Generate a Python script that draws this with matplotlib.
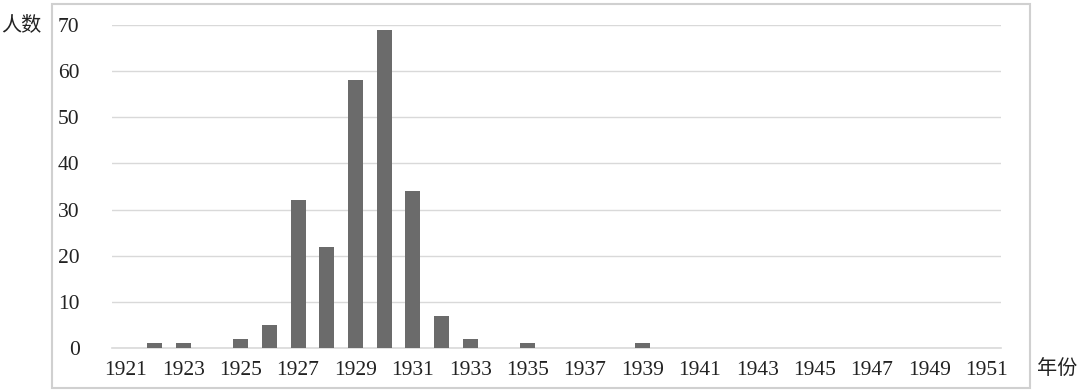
import matplotlib.pyplot as plt
from matplotlib.patches import Rectangle

plt.rcParams['font.family'] = ['Liberation Serif', 'Noto Sans CJK SC', 'DejaVu Sans']

years = list(range(1921, 1952))
counts = [0, 1, 1, 0, 2, 5, 32, 22, 58, 69, 34, 7, 2, 0, 1, 0, 0, 0, 1,
          0, 0, 0, 0, 0, 0, 0, 0, 0, 0, 0, 0]
tick_years = [y for y in years if y % 2 == 1]
y_ticks = [0, 10, 20, 30, 40, 50, 60, 70]

fig = plt.figure(figsize=(10.8, 3.92), dpi=100)
ax = fig.add_axes([0.1033, 0.1122, 0.8237, 0.8240])

x = list(range(len(years)))
ax.bar(x, counts, width=0.52, color="#6b6b6b", zorder=3)

ax.set_xlim(-0.5, len(years) - 0.5)
ax.set_ylim(0, 70)
ax.set_yticks(y_ticks)
ax.set_xticks([years.index(y) for y in tick_years])
ax.set_xticklabels([str(y) for y in tick_years])
ax.tick_params(axis="both", length=0, labelsize=15.5, colors="#222222")
ax.tick_params(axis="y", pad=23)
ax.tick_params(axis="x", pad=9)
ax.grid(axis="y", color="#d9d9d9", linewidth=1, zorder=0)
for side in ["top", "right", "left"]:
    ax.spines[side].set_visible(False)
ax.spines["bottom"].set_color("#d9d9d9")
ax.spines["bottom"].set_linewidth(1.2)

# outer frame of the chart area
fig.patches.append(Rectangle((52 / 1080, 4 / 392), 978 / 1080, 384 / 392,
                             transform=fig.transFigure, fill=False,
                             edgecolor="#d0d0d0", linewidth=1.5))

fig.text(1 / 1080, 1 - 25 / 392, "人数", fontsize=14.5, va="center", ha="left",
         family=['Noto Sans CJK SC'], color="#222222")
fig.text(1037 / 1080, 1 - 368 / 392, "年份", fontsize=14.5, va="center", ha="left",
         family=['Noto Sans CJK SC'], color="#222222")

fig.savefig("out.png", dpi=100)
